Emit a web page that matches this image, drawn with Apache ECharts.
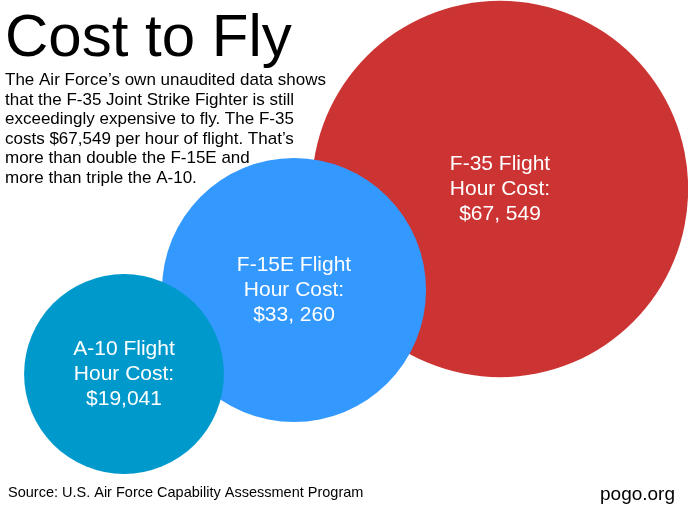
<!DOCTYPE html>
<html>
<head>
<meta charset="utf-8">
<script src="https://cdn.jsdelivr.net/npm/echarts@6/dist/echarts.min.js"></script>
<style>
  html, body { margin: 0; padding: 0; background: #fff; }
  #chart { width: 688px; height: 509px; }
</style>
</head>
<body>
<div id="chart"></div>
<script>
// flight hour cost per aircraft (USD)
const aircraft = ["F-35", "F-15E", "A-10"];
const costPerHour = [67549, 33260, 19041];
const costText = ["$67, 549", "$33, 260", "$19,041"];

// layout only: bubble centres in page pixels, and colours
const centres = [[500, 189], [294, 290], [124, 374]];
const colors = ["#cc3333", "#3399ff", "#0099cc"];

// bubble area is proportional to cost: diameter = k * sqrt(cost)
const k = 1.448;

const chart = echarts.init(document.getElementById("chart"));

const seriesData = aircraft.map(function (name, i) {
  return {
    name: name,
    value: [centres[i][0], centres[i][1], costPerHour[i]],
    itemStyle: { color: colors[i], opacity: 1 },
    label: {
      formatter: name + " Flight\nHour Cost:\n" + costText[i]
    }
  };
});

const option = {
  backgroundColor: "#ffffff",
  animation: false,
  title: [
    {
      text: "Cost to Fly",
      left: 0,
      top: 4,
      textStyle: {
        fontFamily: "Liberation Sans",
        fontSize: 60,
        fontWeight: "normal",
        color: "#000"
      }
    },
    {
      text: "The Air Force\u2019s own unaudited data shows\nthat the F-35 Joint Strike Fighter is still\nexceedingly expensive to fly. The F-35\ncosts $67,549 per hour of flight. That\u2019s\nmore than double the F-15E and\nmore than triple the A-10.",
      left: 0,
      top: 66,
      textStyle: {
        fontFamily: "Liberation Sans",
        fontSize: 17,
        lineHeight: 19.5,
        fontWeight: "normal",
        color: "#000"
      }
    },
    {
      text: "Source: U.S. Air Force Capability Assessment Program",
      left: 3,
      top: 480,
      textStyle: {
        fontFamily: "Liberation Sans",
        fontSize: 14.5,
        fontWeight: "normal",
        color: "#000"
      }
    },
    {
      text: "pogo.org",
      right: 8,
      top: 480,
      textStyle: {
        fontFamily: "Liberation Sans",
        fontSize: 19,
        fontWeight: "normal",
        color: "#000"
      }
    }
  ],
  grid: { left: 0, right: 0, top: 0, bottom: 0 },
  xAxis: { type: "value", min: 0, max: 688, show: false },
  yAxis: { type: "value", min: 0, max: 509, inverse: true, show: false },
  series: [
    {
      type: "scatter",
      clip: false,
      symbol: "circle",
      symbolSize: function (val) {
        return k * Math.sqrt(val[2]);
      },
      label: {
        show: true,
        position: "inside",
        color: "#fff",
        fontFamily: "Liberation Sans",
        fontSize: 21,
        lineHeight: 25,
        align: "center"
      },
      emphasis: { disabled: true },
      data: seriesData
    }
  ]
};

chart.setOption(option);
</script>
</body>
</html>
